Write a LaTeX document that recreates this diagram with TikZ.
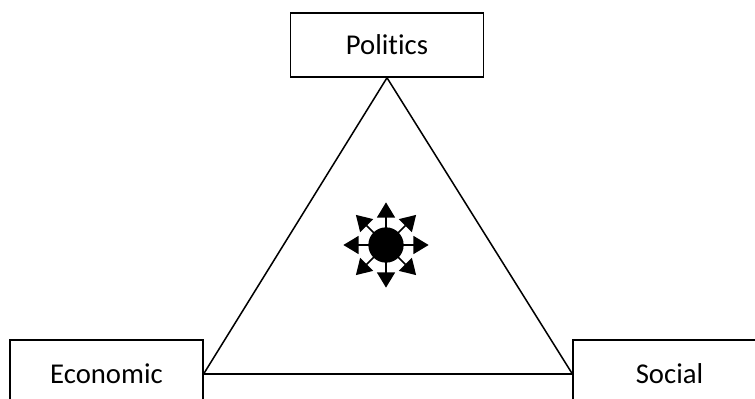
\documentclass[tikz,border=0pt]{standalone}
\usepackage{fontspec}
\setmainfont[Ligatures=NoCommon]{Carlito}
\usetikzlibrary{positioning, arrows.meta, calc}

\tikzset{
  areabox/.style={draw, line width=1.3pt, minimum width=5.78cm, minimum height=2.04cm, inner sep=0pt, font=\fontsize{24.5}{29}\selectfont},
  burst/.style={line width=1.4pt, -{Triangle[length=0.46cm, width=0.54cm]}}
}

\begin{document}
\begin{tikzpicture}[x=0.03cm, y=-0.03cm]
    \useasboundingbox (0,0) rectangle (755,399);

    % Boxes
    \node[areabox, minimum height=1.92cm] (pol) at (387,45) {Politics};
    \node[areabox] (eco) at (106.5,374) {Economic};
    \node[areabox] (soc) at (669.5,374) {Social};

    % Triangle
    \draw[line width=1.3pt, line join=miter] (pol.south) -- (eco.east) -- (soc.west) -- cycle;

    % Centre hub with arrows
    \node[circle, fill=black, minimum size=1.06cm, inner sep=0pt] (hub) at (386,245) {};
    \foreach \a in {0,45,...,315}
      \draw[burst] (hub.center) -- ++(\a:1.28cm);
\end{tikzpicture}
\end{document}
